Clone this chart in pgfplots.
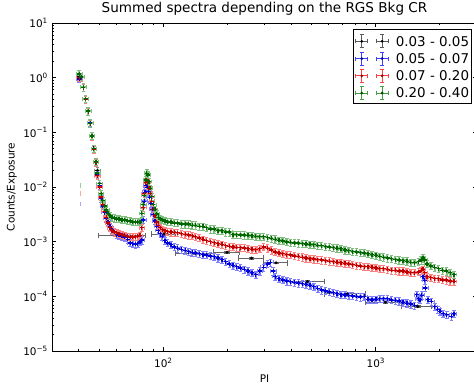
\documentclass[border=0pt]{standalone}
\usepackage{fontspec}
\setmainfont{DejaVu Sans}
\usepackage{pgfplots}
\usepackage{pgfplotstable}
\pgfplotsset{compat=1.18}

\definecolor{mgreen}{rgb}{0,0.5,0}
\definecolor{mblue}{rgb}{0,0,1}
\definecolor{mred}{rgb}{1,0,0}

\newcommand{\tp}[1]{10\raisebox{4.3bp}{\fontsize{7.3}{8}\selectfont #1}}
\newcommand{\legimg}[2]{\tikz[baseline=-4.9bp]{%
  \draw[#1, line width=0.9bp]
    (0bp,0bp) -- (12bp,0bp) (6bp,-6.5bp) -- (6bp,6.5bp)
    (4bp,-6.5bp) -- (8bp,-6.5bp) (4bp,6.5bp) -- (8bp,6.5bp)
    (0bp,-2bp) -- (0bp,2bp) (12bp,-2bp) -- (12bp,2bp)
    (20.3bp,0bp) -- (32.3bp,0bp) (26.3bp,-6.5bp) -- (26.3bp,6.5bp)
    (24.3bp,-6.5bp) -- (28.3bp,-6.5bp) (24.3bp,6.5bp) -- (28.3bp,6.5bp)
    (20.3bp,-2bp) -- (20.3bp,2bp) (32.3bp,-2bp) -- (32.3bp,2bp);
  \fill[#2] (6bp,0bp) circle (1.5bp) (26.3bp,0bp) circle (1.5bp);
  \path (0bp,0bp) -- (40bp,0bp);}}

% black: narrow bins at low PI
\pgfplotstableread{
x y
40.3 1.05
41.2 1.00
42.2 0.66
43.2 0.40
44.4 0.24
45.4 0.145
46.2 0.085
47.2 0.050
48.3 0.029
49.1 0.020
}\datblack
% black: wide bins
\pgfplotstableread{
x y xe
66 0.00129 16.4
101 0.00138 12.7
143 0.00062 29
200 0.00064 28
261 0.00050 35
340 0.00041 44
478 0.000187 94
734 0.000111 162
1111 0.0000783 215
1579 0.0000652 253
}\datblackbins
\pgfplotstableread{
x y
40.3 0.95
41.2 1.02
42.2 0.66
43.2 0.41
44.4 0.245
45.4 0.15
46.2 0.087
47.2 0.051
48.3 0.029
49.1 0.017
50.2 0.0105
51.1 0.0062
52.0 0.0045
53.0 0.0034
54.0 0.0027
55.0 0.0023
56.3 0.0019
57.5 0.00165
59 0.0015
60.5 0.00135
62 0.0013
64 0.00125
66 0.0012
68 0.0011
70 0.00095
72 0.00092
74 0.00090
76 0.00092
77.9 0.00099
79.4 0.00107
80.6 0.0025
81.7 0.0055
82.3 0.0080
83.3 0.0105
84.2 0.0098
85.2 0.0082
86.4 0.0065
87.6 0.0050
88.8 0.0039
90 0.0031
91.7 0.0024
93.4 0.0019
95 0.0016
97 0.00140
99 0.00125
102 0.00105
105 0.00095
109 0.00088
113 0.00080
117 0.00076
122 0.00072
127 0.00069
132 0.00066
137 0.00064
142 0.00062
148 0.00060
154 0.00058
160 0.00057
167 0.00055
174 0.00053
181 0.00050
189 0.00047
197 0.00043
205 0.00039
213 0.00037
222 0.00035
231 0.00033
241 0.00031
251 0.00029
262 0.00027
273 0.00025
285 0.00029
297 0.00034
310 0.00039
320 0.00042
330 0.00029
337 0.00023
351 0.00021
366 0.00020
382 0.00019
398 0.000185
415 0.00018
433 0.000175
452 0.00017
471 0.000165
491 0.00016
512 0.00015
534 0.00014
557 0.00013
581 0.000125
606 0.00012
632 0.000117
659 0.000112
687 0.000108
717 0.000106
748 0.000104
780 0.000102
813 0.000100
848 0.000097
884 0.000100
922 0.000088
962 0.000086
1003 0.000088
1046 0.000090
1091 0.000090
1138 0.000090
1187 0.000086
1238 0.000084
1291 0.000082
1346 0.000078
1404 0.000075
1464 0.000072
1527 0.000068
1563 0.000107
1593 0.000090
1618 0.000087
1650 0.000105
1672 0.00023
1703 0.000197
1715 0.000142
1763 0.000087
1832 0.000081
1900 0.000065
1960 0.000058
2006 0.000053
2080 0.000048
2161 0.000046
2275 0.000043
2335 0.000048
}\datblue
\pgfplotstableread{
x y
40.3 1.00
41.2 1.00
42.2 0.66
43.2 0.40
44.4 0.24
45.4 0.145
46.2 0.085
47.2 0.049
48.3 0.028
49.1 0.016
50.2 0.0100
51.1 0.0066
52.0 0.0048
53.0 0.0036
54.0 0.0028
55.0 0.0022
56.3 0.0018
57.5 0.0016
59 0.0015
60.5 0.00145
62 0.0014
64 0.00135
66 0.0013
68 0.00125
70 0.00122
72 0.00122
74 0.00123
76 0.00125
77.9 0.0013
79.4 0.0018
80.6 0.0042
81.7 0.0075
82.9 0.0120
83.8 0.0135
84.7 0.0120
85.9 0.0095
86.9 0.0077
88.4 0.0055
90 0.0039
91.7 0.0030
93.4 0.0023
95 0.0020
97 0.0018
99 0.00165
102 0.00158
105 0.00153
109 0.00150
113 0.00148
117 0.00145
122 0.00140
127 0.00136
132 0.00132
137 0.00128
142 0.00123
148 0.00117
154 0.00110
160 0.00105
167 0.00100
174 0.00096
181 0.00092
189 0.00089
197 0.00085
205 0.00082
213 0.00080
222 0.00079
231 0.00078
241 0.00077
251 0.00075
262 0.00072
273 0.00071
285 0.00075
297 0.00080
310 0.00076
323 0.00070
337 0.00065
351 0.00062
366 0.00060
382 0.00058
398 0.00057
415 0.00055
433 0.00054
452 0.00052
471 0.00050
491 0.00049
512 0.00048
534 0.00047
557 0.00046
581 0.00045
606 0.00044
632 0.00043
659 0.00042
687 0.00041
717 0.00040
748 0.00039
780 0.00038
813 0.00037
848 0.00036
884 0.00035
922 0.00035
962 0.00034
1003 0.00033
1046 0.00032
1091 0.00032
1138 0.00031
1187 0.00030
1238 0.00030
1291 0.00029
1346 0.00029
1404 0.00028
1464 0.00027
1527 0.00027
1593 0.00028
1640 0.00030
1672 0.00031
1700 0.00027
1744 0.00023
1819 0.00022
1897 0.00021
1978 0.00021
2063 0.00020
2152 0.000198
2244 0.00019
2340 0.000187
}\datred
\pgfplotstableread{
x y
40.3 1.17
41.2 1.03
42.2 0.67
43.2 0.41
44.4 0.245
45.4 0.147
46.2 0.086
47.2 0.050
48.3 0.029
49.1 0.018
50.2 0.0115
51.1 0.0075
52.0 0.0056
53.0 0.0045
54.0 0.0038
55.0 0.0033
56.3 0.0030
57.5 0.0028
59 0.0027
60.5 0.0026
62 0.0026
64 0.0025
66 0.0025
68 0.0024
70 0.0024
72 0.0023
74 0.0023
76 0.0023
77.9 0.0023
79.4 0.0033
80.6 0.0048
81.7 0.0070
82.9 0.0135
83.8 0.0179
84.7 0.0165
85.9 0.0126
86.9 0.0095
88.4 0.0067
90 0.0048
91.7 0.0039
93.4 0.0032
95 0.0028
97 0.0026
99 0.0025
102 0.0024
105 0.0023
109 0.0023
113 0.0022
117 0.0022
122 0.0021
127 0.0021
132 0.0021
137 0.0020
142 0.0020
148 0.0019
154 0.0019
160 0.0018
167 0.0017
174 0.0017
181 0.0016
189 0.0016
197 0.0015
205 0.0015
213 0.00135
222 0.00135
231 0.00133
241 0.00132
251 0.00130
262 0.00128
273 0.00125
285 0.00123
297 0.00124
310 0.00118
323 0.00115
337 0.00111
351 0.00106
366 0.00103
382 0.00099
398 0.00097
415 0.00095
433 0.00094
452 0.00092
471 0.00091
491 0.00089
512 0.00088
534 0.00086
557 0.00084
581 0.00081
606 0.00080
632 0.00078
659 0.00076
687 0.00074
717 0.00070
748 0.00068
780 0.00066
813 0.00065
848 0.00063
884 0.00062
922 0.00060
962 0.00058
1003 0.00056
1046 0.00054
1091 0.00052
1138 0.00050
1187 0.00049
1238 0.00047
1291 0.00046
1346 0.00045
1404 0.00044
1464 0.00042
1527 0.00041
1593 0.00043
1640 0.00046
1672 0.00050
1700 0.00046
1744 0.00039
1819 0.00036
1897 0.00034
1978 0.00032
2063 0.00030
2152 0.00029
2244 0.00027
2340 0.00025
}\datgreen
% isolated error bars near PI 41
\pgfplotstableread{
x y e
40.8 0.0107 0.0012
}\vgreen
\pgfplotstableread{
x y e
40.8 0.0076 0.0007
}\vred
\pgfplotstableread{
x y e
40.8 0.0049 0.00045
}\vblue

\pgfplotsset{
  ser/.style 2 args={only marks, mark=+, mark size=2bp,
    mark options={line width=1.3bp, draw=#2},
    error bars/.cd, x dir=both, x fixed relative=0.03,
    y dir=both, y fixed relative=0.15,
    error bar style={line width=1.5bp, draw=#1},
    error mark options={rotate=90, mark size=1.8bp, line width=0.8bp, draw=#1}},
}

\begin{document}
\begin{tikzpicture}
\begin{axis}[
  name=ax,
  scale only axis,
  width=425bp, height=328bp,
  xmode=log, ymode=log,
  xmin=30, xmax=3000,
  ymin=1e-5, ymax=10,
  xtick={100,1000},
  xticklabels={\tp{2},\tp{3}},
  minor xtick={30,40,50,60,70,80,90,200,300,400,500,600,700,800,900,2000,3000},
  ytick={1e-5,1e-4,1e-3,1e-2,1e-1,1,10},
  yticklabels={\tp{−5},\tp{−4},\tp{−3},\tp{−2},\tp{−1},\tp{0},\tp{1}},
  minor ytick={2e-5,3e-5,4e-5,5e-5,6e-5,7e-5,8e-5,9e-5,
    2e-4,3e-4,4e-4,5e-4,6e-4,7e-4,8e-4,9e-4,
    2e-3,3e-3,4e-3,5e-3,6e-3,7e-3,8e-3,9e-3,
    0.02,0.03,0.04,0.05,0.06,0.07,0.08,0.09,
    0.2,0.3,0.4,0.5,0.6,0.7,0.8,0.9,
    2,3,4,5,6,7,8,9},
  tick align=inside,
  major tick length=4.5bp,
  minor tick length=2.5bp,
  every tick/.style={black, line width=0.6bp},
  axis line style={line width=0.9bp},
  tick label style={font=\fontsize{10.5}{12}\selectfont, inner sep=0pt},
  yticklabel style={anchor=east, xshift=-4.5bp},
  xticklabel style={anchor=north, yshift=-6.5bp},
  title={Summed spectra depending on the RGS Bkg CR},
  title style={at={(axis description cs:0.5,1)}, anchor=base, yshift=4.8bp,
    inner sep=0pt, font=\fontsize{13.6}{16}\selectfont},
  xlabel={PI},
  every axis x label/.style={at={(axis description cs:0.5,0)}, anchor=base,
    yshift=-31.3bp, inner sep=0pt, font=\fontsize{10.5}{12}\selectfont},
  ylabel={Counts/Exposure},
  every axis y label/.style={at={([xshift=-35bp]axis description cs:0,0.5)},
    rotate=90, anchor=south, inner sep=0pt, font=\fontsize{10.5}{12}\selectfont},
  legend image code/.code={},
  legend style={at={(axis description cs:1,1)}, anchor=north east,
    xshift=-5.5bp, yshift=-6bp, draw=black, line width=0.8bp, fill=white,
    inner xsep=2bp, inner ysep=5bp, row sep=5.4bp,
    font=\fontsize{13.5}{16}\selectfont,
    nodes={inner sep=0pt, text depth=0pt}, cells={anchor=west}},
]
% black
\addplot[ser={black!45!white}{black}]
  table[x=x,y=y] {\datblack};
\addlegendentry{\legimg{black!65!white}{black}0.03 - 0.05}
\addplot[forget plot, only marks, mark=*, mark size=1.3bp, black,
  error bars/.cd, x dir=both, x explicit, y dir=both, y fixed relative=0.04,
  error bar style={line width=0.8bp, draw=black!60!white},
  error mark options={rotate=90, mark size=2.8bp, line width=0.7bp, draw=black!60!white}]
  table[x=x,y=y,x error=xe] {\datblackbins};
% blue
\addplot[ser={mblue!50!white}{mblue!85!black}]
  table[x=x,y=y] {\datblue};
\addlegendentry{\legimg{mblue!75!white}{mblue!60!black}0.05 - 0.07}
% red
\addplot[ser={mred!50!white}{mred!75!black}]
  table[x=x,y=y] {\datred};
\addlegendentry{\legimg{mred!75!white}{mred!55!black}0.07 - 0.20}
% green
\addplot[ser={mgreen!50!white}{mgreen!80!black}]
  table[x=x,y=y] {\datgreen};
\addlegendentry{\legimg{mgreen!75!white}{mgreen!55!black}0.20 - 0.40}
% isolated error bars
\addplot[forget plot, only marks, mark=*, mark options={opacity=0},
  error bars/.cd, y dir=both, y explicit, error mark=none,
  error bar style={line width=1bp, draw=mgreen!40!white}]
  table[x=x,y=y,y error=e] {\vgreen};
\addplot[forget plot, only marks, mark=*, mark options={opacity=0},
  error bars/.cd, y dir=both, y explicit, error mark=none,
  error bar style={line width=1bp, draw=mred!35!white}]
  table[x=x,y=y,y error=e] {\vred};
\addplot[forget plot, only marks, mark=*, mark options={opacity=0},
  error bars/.cd, y dir=both, y explicit, error mark=none,
  error bar style={line width=1bp, draw=mblue!35!white}]
  table[x=x,y=y,y error=e] {\vblue};
\end{axis}
\pgfresetboundingbox
\path[use as bounding box] ([xshift=-52bp,yshift=-33bp]ax.south west)
  rectangle ([xshift=-3bp,yshift=23bp]ax.north east);
\end{tikzpicture}
\end{document}
